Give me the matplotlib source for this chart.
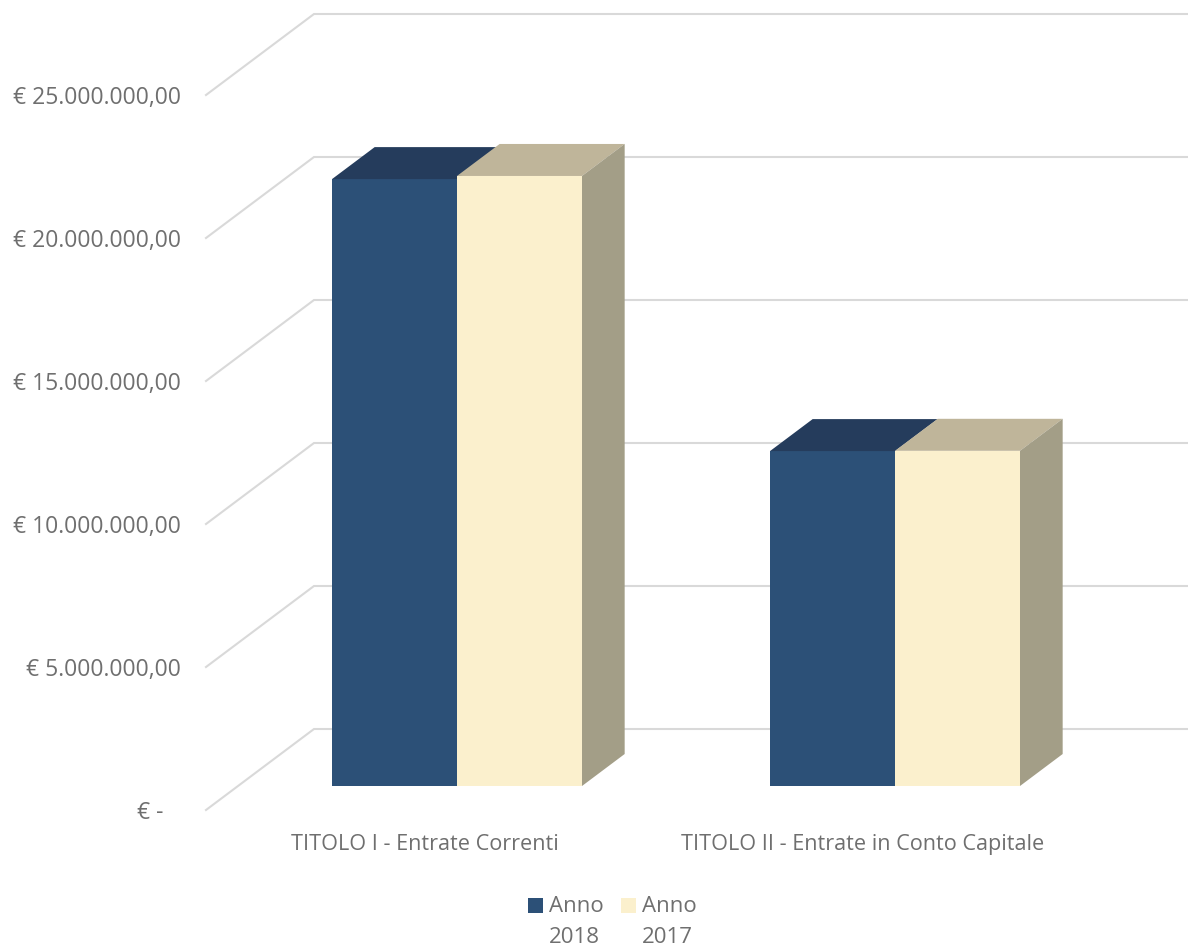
''' entrate 2018 vs 2017, excel style 3d column chart drawn with matplotlib'''
import matplotlib.pyplot as plt
from matplotlib.patches import Rectangle

# data
categories = ['TITOLO I - Entrate Correnti', 'TITOLO II - Entrate in Conto Capitale']
series_names = ['Anno 2018', 'Anno 2017']
values_2018 = [21220000, 11710000]
values_2017 = [21330000, 11720000]
tick_values = [0, 5000000, 10000000, 15000000, 20000000, 25000000]
tick_labels = ['€ -   ', '€ 5.000.000,00', '€ 10.000.000,00', '€ 15.000.000,00',
               '€ 20.000.000,00', '€ 25.000.000,00']

W, H = 1188, 951
plt.rcParams['font.family'] = ['Open Sans', 'DejaVu Sans']
TEXT = '#6f6f6f'
GRID = '#d9d9d9'

fig = plt.figure(figsize=(W / 100, H / 100), dpi=100, facecolor='white')
# the axes is the front plane of the 3d box
ax = fig.add_axes([206 / W, (H - 810) / H, 876 / W, 715 / H])
ax.set_xlim(-0.5, 1.5)
ax.set_ylim(0, 25000000)

# how far the back of the box is shifted, in data units
depth_x = 108 / 438
depth_v = 81 / 143 * 5000000
bar_front = 24 / 81
bar_back = 56 / 81
bar_w = 125 / 438


def project(x, v, d):
    return x + d * depth_x, v + d * depth_v


# gridlines on side wall and back wall
for v in tick_values:
    x0, y0 = project(-0.5, v, 0)
    x1, y1 = project(-0.5, v, 1)
    x2, y2 = project(1.5, v, 1)
    ax.plot([x0, x1, x2], [y0, y1, y2], color=GRID, lw=1.5, clip_on=False, zorder=1,
            solid_joinstyle='miter')


def draw_bar(x, v, front, top, side=None):
    left = x + bar_front * depth_x
    base = bar_front * depth_v
    ax.bar(left, v, bar_w, bottom=base, align='edge', color=front, clip_on=False, zorder=3)
    # top face
    pts = [project(x, v, bar_front), project(x + bar_w, v, bar_front),
           project(x + bar_w, v, bar_back), project(x, v, bar_back)]
    ax.fill([p[0] for p in pts], [p[1] for p in pts], color=top, lw=0, clip_on=False, zorder=3)
    # side face, the 2018 one is hidden by the 2017 bar
    if side:
        pts = [project(x + bar_w, 0, bar_front), project(x + bar_w, v, bar_front),
               project(x + bar_w, v, bar_back), project(x + bar_w, 0, bar_back)]
        ax.fill([p[0] for p in pts], [p[1] for p in pts], color=side, lw=0, clip_on=False, zorder=3)


for i in range(len(categories)):
    draw_bar(i - bar_w, values_2018[i], '#2c5077', '#253c5c')
    draw_bar(i, values_2017[i], '#fbf0cd', '#bfb59a', '#a39e87')

ax.set_yticks(tick_values)
ax.set_yticklabels(tick_labels)
ax.set_xticks(range(len(categories)))
ax.set_xticklabels(categories)
ax.tick_params(axis='y', length=0, pad=18, labelsize=16.5, labelcolor=TEXT)
ax.tick_params(axis='x', length=0, pad=17, labelsize=15.6, labelcolor=TEXT)
ax.patch.set_visible(False)
for s in ax.spines.values():
    s.set_visible(False)

# legend, label wraps on two lines with the square next to the first one
legend_colors = ['#2c5077', '#fbf0cd']
legend_x = [528, 621]
for name, c, lx in zip(series_names, legend_colors, legend_x):
    fig.add_artist(Rectangle((lx / W, (H - 913) / H), 15 / W, 15 / H, color=c, lw=0,
                             transform=fig.transFigure))
    fig.text((lx + 21) / W, (H - 896) / H, name.replace(' ', '\n'), color=TEXT, fontsize=16,
             va='top', ha='left', linespacing=1.62)

plt.savefig('out.png', dpi=100)
